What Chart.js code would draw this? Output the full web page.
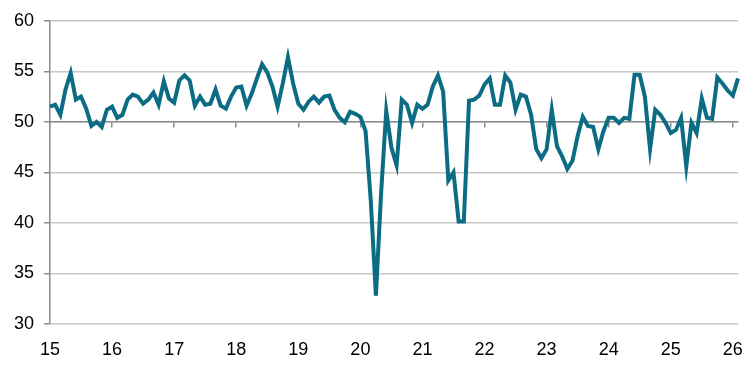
<!DOCTYPE html>
<html>
<head>
<meta charset="utf-8">
<script src="https://cdn.jsdelivr.net/npm/chart.js@4"></script>
<style>
  html, body { margin: 0; padding: 0; background: #fff; }
  #wrap { width: 750px; height: 375px; }
</style>
</head>
<body>
<div id="wrap"><canvas id="pmiChart"></canvas></div>
<script>
  // year labels shown on the x axis (one every 12 months)
  const yearLabels = ["15", "16", "17", "18", "19", "20", "21", "22", "23", "24", "25", "26"];
  const yTicks = [30, 35, 40, 45, 50, 55, 60];

  // monthly index values, Jan 2015 .. Feb 2026
  const values = [
    51.5, 51.7, 50.7, 53.2, 54.85, 52.2, 52.5, 51.3, 49.6, 50.0, 49.5, 51.2, // 2015
    51.5, 50.4, 50.7, 52.2, 52.7, 52.5, 51.8, 52.2, 52.9, 51.7, 54.0, 52.3,  // 2016
    51.9, 54.1, 54.6, 54.1, 51.6, 52.5, 51.7, 51.8, 53.2, 51.6, 51.3, 52.5,  // 2017
    53.4, 53.5, 51.6, 52.8, 54.3, 55.7, 54.9, 53.5, 51.5, 53.8, 56.4, 53.8,  // 2018
    51.8, 51.2, 52.0, 52.5, 51.9, 52.5, 52.6, 51.2, 50.4, 49.95, 51.0, 50.8, // 2019
    50.5, 49.1, 42.3, 32.8, 42.9, 51.1, 47.45, 45.7, 52.2, 51.7, 49.9, 51.7, // 2020
    51.3, 51.7, 53.5, 54.6, 53.0, 44.2, 45.0, 40.15, 40.15, 52.1, 52.2, 52.6, // 2021
    53.7, 54.3, 51.7, 51.7, 54.6, 53.9, 51.2, 52.7, 52.5, 50.7, 47.3, 46.4,  // 2022
    47.3, 51.2, 47.6, 46.6, 45.35, 46.15, 48.6, 50.5, 49.6, 49.5, 47.3, 49.1, // 2023
    50.4, 50.4, 49.9, 50.4, 50.3, 54.65, 54.65, 52.5, 47.3, 51.2, 50.7, 49.9, // 2024
    48.9, 49.2, 50.4, 45.6, 49.9, 48.9, 52.3, 50.4, 50.3, 54.4, 53.8, 53.1,  // 2025
    52.6, 54.3                                                               // 2026
  ];

  // one category per month, e.g. "15-01"
  const categories = values.map((v, i) =>
    yearLabels[Math.floor(i / 12)] + "-" + String((i % 12) + 1).padStart(2, "0"));

  const font = { family: "'Liberation Sans', Arial, sans-serif", size: 18 };

  new Chart(document.getElementById("pmiChart"), {
    type: "line",
    data: {
      labels: categories,
      datasets: [{
        data: values,
        borderColor: "#0b6c83",
        borderWidth: 4,
        pointRadius: 0,
        tension: 0,
        xAxisID: "x",
      }],
    },
    options: {
      responsive: true,
      maintainAspectRatio: false,
      animation: false,
      layout: { padding: { top: 19, right: 12, left: 0, bottom: 0 } },
      plugins: { legend: { display: false }, tooltip: { enabled: false } },
      scales: {
        x: {
          type: "category",
          offset: false,
          grid: { display: false },
          border: { display: false },
          afterFit: (s) => { s.height = 51; },
          ticks: {
            autoSkip: false,
            maxRotation: 0,
            color: "#000",
            font: font,
            padding: 7,
            callback: (v, i) => (i % 12 === 0 ? yearLabels[i / 12] : null),
          },
        },
        xMid: {
          type: "category",
          position: { y: 50 },
          offset: false,
          grid: {
            drawOnChartArea: false,
            tickLength: 5,
            color: (c) => (c.index % 12 === 0 ? "#8c8c8c" : "rgba(0,0,0,0)"),
            lineWidth: 1.5,
          },
          border: { color: "#8c8c8c", width: 1.5 },
          ticks: { display: false, autoSkip: false },
        },
        y: {
          min: 30,
          max: 60,
          afterBuildTicks: (s) => { s.ticks = yTicks.map((v) => ({ value: v })); },
          afterFit: (s) => { s.width = 50; },
          grid: { color: "#c6c6c6", lineWidth: 1.5, tickLength: 6, tickColor: "#8c8c8c" },
          border: { color: "#8c8c8c", width: 1.5 },
          ticks: { color: "#000", font: font, padding: 10 },
        },
      },
    },
  });
</script>
</body>
</html>
